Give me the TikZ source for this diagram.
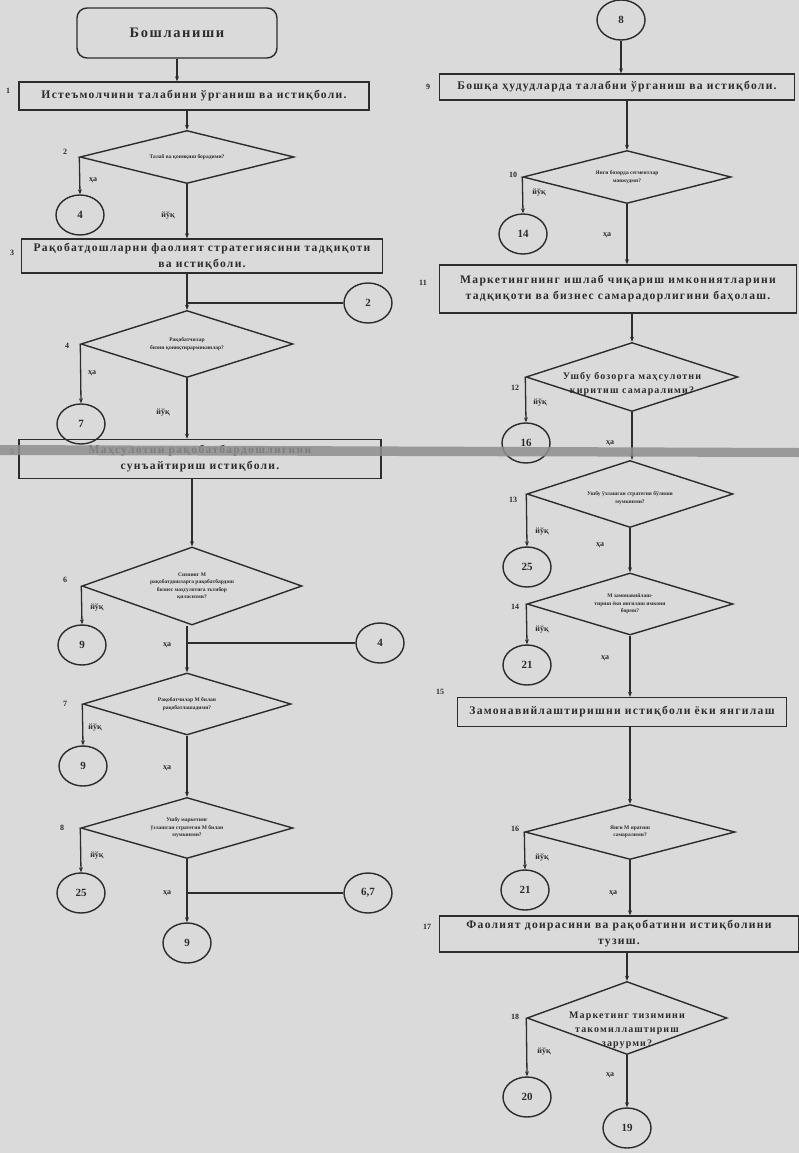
\documentclass[tikz,border=0pt]{standalone}
\usepackage{fontspec}
\setmainfont{Liberation Serif}
\newfontfamily\boxfont{Liberation Serif}[LetterSpace=11]
\usetikzlibrary{shapes.geometric,arrows.meta}
\definecolor{paper}{HTML}{DADADA}
\definecolor{ink}{HTML}{2C2C2C}
\definecolor{band}{HTML}{8E8E8E}
\begin{document}
\begin{tikzpicture}[x=1pt,y=-1pt,
  every node/.style={text=ink},
  box/.style={draw=ink, line width=1.4pt, rectangle, inner sep=0pt, align=center,
    font=\boxfont\bfseries\fontsize{11.6}{16}\selectfont},
  dia/.style={draw=ink, line width=1.4pt, diamond, inner sep=0pt},
  dtext/.style={align=center, font=\bfseries\fontsize{5.5}{7.5}\selectfont, inner sep=0pt},
  dbig/.style={align=center, font=\boxfont\bfseries\fontsize{10}{14}\selectfont, inner sep=0pt},
  conn/.style={draw=ink, line width=1.4pt, ellipse, minimum width=48pt, minimum height=40pt,
    inner sep=0pt, font=\bfseries\fontsize{11}{12}\selectfont},
  num/.style={font=\bfseries\fontsize{8}{9}\selectfont, inner sep=0pt},
  lab/.style={font=\bfseries\fontsize{8}{9}\selectfont, inner sep=0pt},
  flow/.style={draw=ink, line width=1.3pt, -{Stealth[length=5pt,width=4pt]}},
  wire/.style={draw=ink, line width=1.3pt},
]
\fill[paper] (0,0) rectangle (799,1153);
\useasboundingbox (0,0) rectangle (799,1153);

% ---------------- left column ----------------
\node[box, rounded corners=10pt, minimum width=200pt, minimum height=50pt,
  font=\boxfont\bfseries\fontsize{14.5}{17}\selectfont] (start) at (177,33) {Бошланиши};
\node[box, minimum width=350pt, minimum height=28pt] (b1) at (194,96)
  {Истеъмолчини талабини ўрганиш ва истиқболи.};
\node[dia, minimum width=214pt, minimum height=53pt] (d2) at (187,157) {};
\node[dtext] (d2t) at (d2) {Талаб ва қониқиш борадими?};
\node[conn] (c4a) at (80,215) {4};
\node[box, minimum width=361pt, minimum height=34pt] (b3) at (202,256)
  {Рақобатдошларни фаолият стратегиясини тадқиқоти\\ва истиқболи.};
\node[conn] (c2) at (368,303) {2};
\node[dia, minimum width=212pt, minimum height=67pt] (d4) at (187,344) {};
\node[dtext] (d4t) at (d4) {Рақобатчилар\\бизни қониқтирармикинлар?};
\node[conn] (c7) at (81,424) {7};
\node[box, minimum width=362pt, minimum height=39pt] (b5) at (200,459)
  {Маҳсулотни рақобатбардошлигини\\сунъайтириш истиқболи.};
\node[dia, minimum width=220pt, minimum height=78pt] (d6) at (192,586) {};
\node[dtext] (d6t) at (d6) {Сизнинг М\\рақобатдошларга рақобатбардош\\бизнес маҳсулотига эътибор\\қиласизми?};
\node[conn] (c9a) at (82,645) {9};
\node[conn] (c4b) at (380,643) {4};
\node[dia, minimum width=208pt, minimum height=62pt] (d7) at (187,704) {};
\node[dtext] (d7t) at (d7) {Рақобатчилар М билан\\рақобатлашадими?};
\node[conn] (c9b) at (83,766) {9};
\node[dia, minimum width=212pt, minimum height=61pt] (d8) at (187,828) {};
\node[dtext] (d8t) at (d8) {Ушбу маркетинг\\ўзлашган стратегия М билан\\мумкинми?};
\node[conn] (c25a) at (81,893) {25};
\node[conn] (c67) at (368,893) {6,7};
\node[conn] (c9c) at (187,943) {9};

% numbers
\node[num] (n1) at (8,91) {1};
\node[num] (n2) at (65,152) {2};
\node[num] (n3) at (12,253) {3};
\node[num] (n4) at (67,346) {4};
\node[num] (n5) at (12,452) {5};
\node[num] (n6) at (65,580) {6};
\node[num] (n7) at (65,704) {7};
\node[num] (n8) at (62,828) {8};

% connectors left
\draw[flow] (start.south) -- (start.south |- b1.north);
\draw[flow] (d2.north |- b1.south) -- (d2.north);
\draw[flow] (d2.west) -- (c4a.north);
\draw[flow] (d2.south) -- (d2.south |- b3.north);
\draw[flow] (d4.north |- b3.south) -- (d4.north);
\draw[wire] (c2.west) -- (d4.north |- c2.west);
\draw[flow] (d4.west) -- (c7.north);
\draw[flow] (d4.south) -- (d4.south |- b5.north);
\draw[flow] (d6.north |- b5.south) -- (d6.north);
\draw[flow] (d6.west) -- (c9a.north);
\draw[flow] (d7.north |- d6.south) -- (d7.north);
\draw[wire] (c4b.west) -- (d7.north |- c4b.west);
\draw[flow] (d7.west) -- (c9b.north);
\draw[flow] (d7.south) -- (d8.north);
\draw[flow] (d8.west) -- (c25a.north);
\draw[flow] (d8.south) -- (c9c.north);
\draw[wire] (c67.west) -- (d8.south |- c67.west);

% yes/no labels left
\node[lab] (l2a) at (93,180) {ҳа};
\node[lab] (l2b) at (168,216) {йўқ};
\node[lab] (l4a) at (92,373) {ҳа};
\node[lab] (l4b) at (163,413) {йўқ};
\node[lab] (l6a) at (97,608) {йўқ};
\node[lab] (l6b) at (167,645) {ҳа};
\node[lab] (l7a) at (95,728) {йўқ};
\node[lab] (l7b) at (167,768) {ҳа};
\node[lab] (l8a) at (97,856) {йўқ};
\node[lab] (l8b) at (167,893) {ҳа};

% ---------------- right column ----------------
\node[conn] (c8) at (621,20) {8};
\node[box, minimum width=355pt, minimum height=26pt] (b9) at (617,87)
  {Бошқа ҳудудларда талабни ўрганиш ва истиқболи.};
\node[dia, minimum width=208pt, minimum height=53pt] (d10) at (627,177) {};
\node[dtext] (d10t) at (d10) {Янги бозорда сегментлар\\мавжудми?};
\node[conn] (c14) at (523,234) {14};
\node[box, minimum width=357pt, minimum height=48pt] (b11) at (618,289)
  {Маркетингнинг ишлаб чиқариш имкониятларини\\тадқиқоти ва бизнес самарадорлигини баҳолаш.};
\node[dia, minimum width=212pt, minimum height=69pt] (d12) at (632,377) {};
\node[dbig] (d12t) at ([yshift=-7pt]d12.center) {Ушбу бозорга маҳсулотни\\киритиш самаралими?};
\node[conn] (c16) at (526,443) {16};
\node[dia, minimum width=206pt, minimum height=67pt] (d13) at (630,494) {};
\node[dtext] (d13t) at ([yshift=-4pt]d13.center) {Ушбу ўзлашган стратегия бўлиши\\мумкинми?};
\node[conn] (c25b) at (527,567) {25};
\node[dia, minimum width=206pt, minimum height=62pt] (d14) at (630,604) {};
\node[dtext] (d14t) at (d14) {М замонавийлаш-\\тириш ёки янгилаш имкони\\борми?};
\node[conn] (c21a) at (527,665) {21};
\node[box, minimum width=329pt, minimum height=29pt] (b15) at (622,712)
  {Замонавийлаштиришни истиқболи ёки янгилаш};
\node[dia, minimum width=210pt, minimum height=55pt] (d16) at (630,832) {};
\node[dtext] (d16t) at (d16) {Янги М яратиш\\самаралими?};
\node[conn] (c21b) at (525,890) {21};
\node[box, minimum width=359pt, minimum height=36pt] (b17) at (619,934)
  {Фаолият доирасини ва рақобатини истиқболини\\тузиш.};
\node[dia, minimum width=200pt, minimum height=73pt] (d18) at (627,1018) {};
\node[dbig] (d18t) at ([yshift=-12pt]d18.center) {Маркетинг тизимини\\такомиллаштириш\\зарурми?};
\node[conn] (c20) at (527,1097) {20};
\node[conn] (c19) at (627,1128) {19};

% numbers right
\node[num] (n9) at (428,87) {9};
\node[num] (n10) at (513,175) {10};
\node[num] (n11) at (423,283) {11};
\node[num] (n12) at (515,388) {12};
\node[num] (n13) at (513,500) {13};
\node[num] (n14) at (515,607) {14};
\node[num] (n15) at (440,692) {15};
\node[num] (n16) at (515,829) {16};
\node[num] (n17) at (427,927) {17};
\node[num] (n18) at (515,1017) {18};

% connectors right
\draw[flow] (c8.south) -- (c8.south |- b9.north);
\draw[flow] (d10.north |- b9.south) -- (d10.north);
\draw[flow] (d10.west) -- (c14.north);
\draw[flow] (d10.south) -- (d10.south |- b11.north);
\draw[flow] (d12.north |- b11.south) -- (d12.north);
\draw[flow] (d12.west) -- (c16.north);
\draw[flow] (d12.south) -- (d12.south |- d13.north);
\draw[flow] (d13.west) -- (c25b.north);
\draw[flow] (d13.south) -- (d14.north);
\draw[flow] (d14.west) -- (c21a.north);
\draw[flow] (d14.south) -- (d14.south |- b15.north);
\draw[flow] (d16.north |- b15.south) -- (d16.north);
\draw[flow] (d16.west) -- (c21b.north);
\draw[flow] (d16.south) -- (d16.south |- b17.north);
\draw[flow] (d18.north |- b17.south) -- (d18.north);
\draw[flow] (d18.west) -- (c20.north);
\draw[flow] (d18.south) -- (c19.north);

% yes/no labels right
\node[lab] (l10a) at (539,193) {йўқ};
\node[lab] (l10b) at (607,235) {ҳа};
\node[lab] (l12a) at (540,403) {йўқ};
\node[lab] (l12b) at (610,443) {ҳа};
\node[lab] (l13a) at (542,532) {йўқ};
\node[lab] (l13b) at (600,545) {ҳа};
\node[lab] (l14a) at (542,630) {йўқ};
\node[lab] (l14b) at (605,658) {ҳа};
\node[lab] (l16a) at (542,858) {йўқ};
\node[lab] (l16b) at (613,893) {ҳа};
\node[lab] (l18a) at (544,1052) {йўқ};
\node[lab] (l18b) at (610,1075) {ҳа};

% scan band
\fill[band, opacity=0.85] (0,445) -- (799,448) -- (799,457) -- (0,455) -- cycle;
\end{tikzpicture}
\end{document}
